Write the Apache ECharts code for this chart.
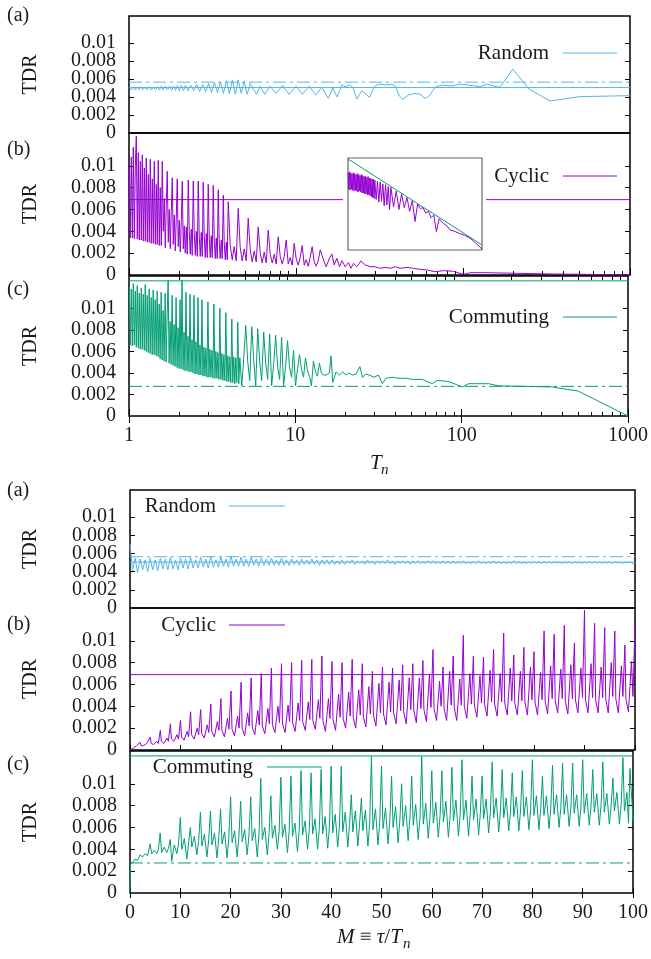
<!DOCTYPE html>
<html><head><meta charset="utf-8">
<script src="https://cdn.jsdelivr.net/npm/echarts@6/dist/echarts.min.js"></script>
<style>html,body{margin:0;padding:0;background:#fff}#c{width:651px;height:959px}</style>
</head><body><div id="c"></div>
<script>
// ---------- tick values ----------
const yTickValues = [0.002, 0.004, 0.006, 0.008, 0.01];
const yLabelsA = [0, 0.004, 0.008];
const yLabelsB = [0.002, 0.006, 0.01];
const tnMajorTicks = [1, 10, 100, 1000];
const tnMinorTicks = [2,3,4,5,6,7,8,9,20,30,40,50,60,70,80,90,200,300,400,500,600,700,800,900];
const tnRange = [1, 1000];
const mRange = [0, 100];

// ---------- reference levels ----------
const randomLevels = [0.00505, 0.00565];     // solid, dash-dot
const cyclicLevels = [0.0069];               // solid
const commutingLevels = [0.01255, 0.00275];  // solid, dash-dot

// ---------- TDR vs T_n ----------
const randomVsTn = [[1.00,.0051],[1.03,.0048],[1.06,.0051],[1.09,.0048],[1.12,.0051],[1.15,.0048],[1.18,.00515],[1.21,.0048],[1.25,.0051],[1.28,.0048],[1.32,.00515],[1.36,.00478],[1.40,.0051],[1.44,.0048],[1.48,.00515],[1.52,.00478],[1.56,.0052],[1.60,.00478],[1.65,.0052],[1.70,.00478],[1.75,.0052],[1.80,.00475],[1.85,.0052],[1.90,.00475],[1.95,.00525],[2.00,.00472],[2.06,.0053],[2.12,.0047],[2.18,.0053],
[2.25,.0047],[2.34,.0053],[2.44,.0047],[2.54,.0054],[2.65,.0046],[2.76,.0054],[2.88,.0046],[3.00,.0055],[3.12,.0045],[3.25,.0056],[3.39,.0045],[3.53,.0057],[3.68,.0044],[3.83,.0058],[3.99,.0044],[4.16,.0059],[4.33,.0043],[4.51,.0059],[4.70,.0044],[4.90,.0058],[5.10,.0043],[5.32,.0055],
[5.8,.0043],[6.1,.0052],[6.5,.0043],[7.0,.0052],[7.6,.0044],[8.3,.0053],[9.1,.0043],[10.0,.0052],[10.9,.0043],[12.0,.0052],[13.1,.0042],[14.3,.0051],[15.6,.00385],[16.6,.0050],[17.6,.0040],[18.8,.00533],[19.7,.00515],[21.1,.00533],[21.9,.00508],[23.1,.00378],[24.8,.0047],[26.3,.00433],[27.5,.00396],[29.1,.00496],[29.8,.00522],[31.6,.00544],[34.2,.00533],[37.5,.00544],[39.3,.00522],[41.6,.0041],[43.6,.00374],[47.1,.00422],[51.7,.0044],[55.4,.0043],[59.3,.00385],[62.1,.00404],[68.1,.00508],[74.6,.00533],[85.7,.00522],[96.1,.00544],[107.7,.00533],[126.6,.00515],[138.8,.00544],[152,.00522],[166.7,.00508],[198.6,.0071],[249.7,.00485],[332,.00356],[502,.00404],[1000,.00415]];

const cyclicVsTn = [[1.004,.0099],[1.018,.0034],[1.032,.0108],[1.047,.0034],[1.061,.0117],[1.076,.0033],[1.091,.0100],[1.106,.0127],[1.121,.0033],[1.137,.0112],[1.152,.0032],[1.169,.0104],[1.185,.0032],[1.201,.0110],[1.218,.0031],[1.235,.0098],[1.252,.0031],[1.269,.0107],[1.287,.0030],[1.305,.0092],[1.323,.0030],[1.341,.0106],[1.360,.0029],[1.379,.0088],[1.398,.0029],[1.417,.0104],[1.437,.0028],[1.457,.0083],[1.477,.0028],[1.497,.0105],[1.518,.0027],[1.539,.0080],[1.561,.0027],[1.582,.0104],[1.604,.0040],[1.627,.0070],[1.649,.0025],[1.672,.0065],[1.695,.0095],[1.719,.0030],[1.742,.0060],[1.767,.0024],[1.791,.0058],[1.816,.0089],[1.841,.0028],[1.867,.0055],[1.893,.0022],[1.919,.0052],[1.945,.0088],[1.972,.0026],[2.000,.0050],[2.028,.0021],[2.056,.0048],[2.084,.0086],[2.113,.0024],[2.142,.0045],[2.172,.0020],[2.203,.0044],[2.233,.0019],[2.264,.0087],[2.296,.0040],[2.327,.0019],[2.360,.0042],[2.392,.0018],[2.426,.0086],[2.459,.0038],[2.494,.0018],[2.528,.0040],[2.564,.0017],[2.598,.0086],[2.634,.0036],[2.671,.0017],[2.708,.0039],[2.746,.0017],[2.783,.0085],[2.822,.0035],[2.861,.0016],[2.901,.0038],[2.941,.0016],[2.982,.0083],[3.024,.0034],[3.066,.0016],[3.108,.0036],[3.151,.0016],[3.195,.0082],[3.239,.0032],[3.285,.0015],[3.330,.0034],[3.377,.0015],[3.423,.0078],[3.471,.0030],[3.518,.0015],[3.568,.0032],[3.617,.0015],[3.668,.0073],[3.718,.0029],[3.771,.0014],[3.822,.0030],[3.876,.0014],[3.929,.0067],
[4.038,.0027],[4.151,.0014],[4.267,.0026],[4.386,.0013],[4.509,.0061],[4.635,.0025],[4.764,.0013],[4.898,.0024],[5.035,.0013],[5.175,.0052],[5.320,.0023],[5.469,.0012],[5.622,.0022],[5.779,.0012],[5.940,.0044],[6.107,.0020],[6.277,.0011],[6.453,.0021],[6.633,.0011],[6.818,.0041],[7.009,.0019],[7.205,.0011],[7.406,.0019],[7.613,.0010],[7.826,.0035],[8.045,.0017],[8.269,.0010],[8.500,.0017],[8.738,.0032],[8.982,.0010],[9.233,.0016],[9.491,.0009],[9.755,.0029],[10.03,.0015],[10.31,.0009],[10.60,.0016],[10.89,.0027],[11.20,.0009],[11.51,.0014],[11.83,.0008],[12.16,.0016],[12.50,.0026],[12.85,.0012],[13.21,.0008],[13.58,.0013],[13.96,.0023],
[14.61,.00138],[15.16,.00076],[15.87,.00153],[16.40,.00193],[16.93,.00092],[17.57,.00153],[18.21,.00076],[18.83,.00131],[19.70,.00076],[20.62,.00113],[21.31,.00061],[22.09,.00107],[23.14,.00076],[24.45,.00128],[25.95,.00092],[27.80,.00076],[29.78,.00076],[31.90,.00061],[34.19,.0007],[36.63,.00061],[39.25,.00076],[42.04,.00061],[46.10,.0007],[50.49,.00061],[55.38,.00052],[60.73,.00046],[68.08,.0003],[76.33,.0004],[87.63,.00034],[100.6,.00006],[110.3,.00021],[138.8,.00021],[219.7,.00015],[347.5,.00009],[550.8,.00006],[1000,0]];

const commutingVsTn = [[1.004,.0120],[1.018,.0066],[1.032,.0118],[1.047,.0065],[1.061,.0123],[1.076,.0066],[1.091,.0116],[1.106,.0064],[1.121,.0121],[1.137,.0063],[1.152,.0114],[1.169,.0062],[1.185,.0119],[1.201,.0062],[1.218,.0113],[1.235,.0061],[1.252,.0122],[1.269,.0060],[1.287,.0112],[1.305,.0059],[1.323,.0118],[1.341,.0058],[1.360,.0110],[1.379,.0057],[1.398,.0117],[1.417,.0057],[1.437,.0108],[1.457,.0056],[1.477,.0116],[1.497,.0055],[1.518,.0104],[1.539,.0053],[1.561,.0115],[1.582,.0052],[1.604,.0098],[1.627,.0051],[1.649,.0114],[1.672,.0050],[1.695,.0092],[1.719,.0126],[1.742,.0049],[1.767,.0088],[1.791,.0048],[1.816,.0112],[1.841,.0047],[1.867,.0085],[1.893,.0046],[1.919,.0110],[1.945,.0045],[1.972,.0082],[2.000,.0044],[2.028,.0108],[2.056,.0044],[2.084,.0126],[2.113,.0043],[2.142,.0078],[2.172,.0042],[2.203,.0115],[2.233,.0042],[2.264,.0074],[2.296,.0041],[2.327,.0113],[2.360,.0041],[2.392,.0071],[2.426,.0040],[2.459,.0112],[2.494,.0039],[2.528,.0069],[2.564,.0039],[2.598,.0110],[2.634,.0038],[2.671,.0066],
[2.708,.0038],[2.746,.0108],[2.783,.0037],[2.822,.0064],[2.861,.0037],[2.901,.0063],[2.941,.0036],[2.982,.0106],[3.024,.0036],[3.066,.0062],[3.108,.0036],[3.151,.0061],[3.195,.0035],[3.239,.0104],[3.285,.0035],[3.330,.0060],[3.377,.0035],[3.423,.0059],[3.471,.0034],[3.518,.0100],[3.568,.0034],[3.617,.0058],[3.668,.0033],[3.718,.0057],[3.771,.0033],[3.822,.0096],[3.876,.0032],[3.929,.0056],[3.983,.0032],[4.038,.0055],[4.094,.0031],[4.151,.0090],[4.208,.0031],[4.267,.0055],[4.326,.0030],[4.386,.0054],[4.448,.0031],[4.509,.0087],[4.572,.0030],[4.635,.0054],
[4.764,.0028],[4.898,.0054],[5.035,.0084],[5.175,.0050],[5.320,.0033],[5.469,.0083],[5.622,.0052],[5.779,.0028],[5.940,.0081],[6.107,.0050],[6.277,.0033],[6.453,.0078],[6.633,.0049],[6.818,.0034],[7.009,.0076],[7.205,.0028],[7.406,.0048],[7.613,.0075],[7.826,.0046],[8.045,.0034],[8.269,.0073],[8.500,.0028],[8.738,.0046],[8.982,.0070],[9.233,.0045],[9.491,.0036],[9.755,.0061],[10.03,.0028],[10.31,.0044],[10.60,.0057],[10.89,.0043],[11.20,.0036],[11.51,.0054],[11.83,.0042],[12.16,.0037],[12.50,.0028],[12.85,.0051],[13.21,.0041],[13.58,.0037],[13.96,.0049],[14.35,.0040],[14.75,.0038],
[15.31,.0038],[16.02,.0040],[16.40,.00558],[16.77,.00312],[17.57,.0041],[18.39,.0038],[19.24,.0041],[20.17,.0038],[21.06,.0040],[22.09,.0038],[23.14,.0039],[24.45,.00458],[25.35,.0036],[26.57,.0039],[27.80,.0038],[29.78,.0036],[31.61,.0038],[33.40,.0030],[34.99,.0035],[38.33,.0036],[42.04,.0035],[46.10,.0035],[50.49,.0034],[57.94,.0034],[66.51,.0030],[71.26,.0033],[83.72,.0032],[100.6,.0027],[110.3,.0030],[145.3,.0030],[166.7,.0028],[347.5,.0027],[502.3,.00231],[1000,0]];

// inset (normalised log-log view of the cyclic curve)
const insetCyclic = [[0,.84],[.005,.66],[.01,.85],[.015,.65],[.02,.84],[.025,.66],[.03,.83],[.035,.65],[.04,.84],[.045,.64],[.05,.83],[.055,.65],[.06,.82],[.065,.64],[.07,.83],[.075,.63],[.08,.82],[.085,.64],[.09,.81],[.095,.63],[.10,.82],[.105,.62],[.11,.81],[.115,.62],[.12,.80],[.125,.61],[.13,.80],[.135,.61],[.14,.79],[.145,.60],[.15,.80],[.155,.60],[.16,.78],[.165,.59],[.17,.78],[.175,.58],[.18,.77],[.185,.57],[.19,.77],[.195,.56],[.20,.76],[.21,.55],[.22,.75],[.23,.52],[.24,.74],[.25,.53],[.26,.72],[.27,.48],[.28,.71],[.29,.49],[.30,.69],[.31,.44],[.32,.68],[.34,.47],[.36,.64],[.38,.44],[.40,.61],[.42,.46],[.44,.57],[.46,.42],[.48,.54],[.50,.31],[.52,.50],[.54,.45],[.56,.46],[.58,.40],[.60,.42],[.62,.35],[.64,.38],[.66,.20],[.68,.34],[.71,.29],[.74,.26],[.76,.22],[.80,.20],[.83,.18],[.87,.16],[.91,.13],[.95,.08],[1,.01]];
const insetBound = [[0,.99],[1,.055]];

// ---------- TDR vs M ----------
const randomVsM = [[0,.0071],[.5,.0041],[1,.0055],[1.5,.0039],[2,.0054],[2.5,.0042],[3,.0053],[3.5,.0040],[4,.0055],[4.5,.0042],[5,.0053],[5.5,.0041],[6,.0055],[6.5,.0043],[7,.0054],[7.5,.0042],[8,.0056],[8.5,.0043],[9,.0053],[9.5,.0042],[10,.0055],[10.5,.0044],[11,.0054],[11.5,.0043],[12,.0056],[12.5,.0044],[13,.0053],[13.5,.0044],[14,.0056],[14.5,.0045],[15,.0054],[15.5,.0044],[16,.0057],[16.5,.0045],[17,.0053],[17.5,.0045],[18,.0056],[18.5,.0046],[19,.0054],[19.5,.0045],[20,.0057],[20.5,.0046],[21,.0054],[21.5,.0046],[22,.0056],[22.5,.0046],[23,.0054],[23.5,.0046],[24,.0056],[24.5,.0047],[25,.0054],[25.5,.0046],[26,.0055],[26.5,.0047],[27,.0054],[27.5,.0047],[28,.0055],[28.5,.0047],[29,.0053],[29.5,.0047],[30,.0055],[30.5,.0047],[31,.0053],[31.5,.0047],[32,.0054],[32.5,.0048],[33,.0053],[33.5,.0047],[34,.0054],[34.5,.0048],[35,.0053],[35.5,.0048],[36,.0054],[36.5,.0048],[37,.0053],[37.5,.0047],[38,.0053],[38.5,.0048],[39,.0053],[39.5,.0048],[40,.0053],[40.5,.0048],[41,.0052],[41.5,.0048],[42,.0053],[42.5,.0048],[43,.0052],[43.5,.0049],[44,.0053],[44.5,.0048],[45,.0052],[45.5,.0049],[46,.0052],[46.5,.0048],[47,.0053],[47.5,.0049],[48,.0052],[48.5,.0048],[49,.0052],[49.5,.0049],[50,.0052],[50.5,.0049],[51,.0053],[51.5,.0049],[52,.0052],[52.5,.0048],[53,.0052],[53.5,.0049],[54,.0052],[54.5,.0049],[55,.0052],[55.5,.0048],[56,.0052],[56.5,.0049],[57,.0052],[57.5,.0049],[58,.0051],[58.5,.0049],[59,.0052],[59.5,.0049],[60,.0052],[60.5,.0049],[61,.0051],[61.5,.0049],[62,.0052],[62.5,.0049],[63,.0051],[63.5,.0049],[64,.0052],[64.5,.0049],[65,.0051],[65.5,.0049],[66,.0052],[66.5,.0049],[67,.0051],[67.5,.0049],[68,.0051],[68.5,.0049],[69,.0052],[69.5,.0049],[70,.0051],[70.5,.0049],[71,.0051],[71.5,.0049],[72,.0052],[72.5,.0049],[73,.0051],[73.5,.0049],[74,.0051],[74.5,.0049],[75,.0051],[75.5,.0049],[76,.0052],[76.5,.0049],[77,.0051],[77.5,.0049],[78,.0051],[78.5,.0049],[79,.0051],[79.5,.0049],[80,.0051],[80.5,.00495],[81,.0051],[81.5,.0049],[82,.0051],[82.5,.00495],[83,.0051],[83.5,.0049],[84,.0051],[84.5,.00495],[85,.0051],[85.5,.0049],[86,.0051],[86.5,.00495],[87,.0051],[87.5,.0049],[88,.0051],[88.5,.00495],[89,.0051],[89.5,.0049],[90,.0051],[90.5,.00495],[91,.0051],[91.5,.0049],[92,.0051],[92.5,.00495],[93,.0051],[93.5,.0049],[94,.0051],[94.5,.00495],[95,.0051],[95.5,.0049],[96,.0051],[96.5,.00495],[97,.0051],[97.5,.0049],[98,.0051],[98.5,.00495],[99,.0051],[99.5,.0049],[100,.0050]];

const cyclicVsM = [[0,0],[0.2,.0001],[0.7,.0002],[1.3,.0004],[1.6,.0003],
[2,.0007],[2.2,.0004],[2.7,.0004],[3.3,.0006],[3.6,.0005],
[4,.0012],[4.2,.0006],[4.7,.0005],[5.3,.0008],[5.6,.0006],
[6,.0018],[6.2,.0008],[6.7,.0006],[7.3,.0011],[7.6,.0008],
[8,.0024],[8.2,.0010],[8.7,.0008],[9.3,.0014],[9.6,.0010],
[10,.0027],[10.2,.0012],[10.7,.0009],[11.3,.0017],[11.6,.0012],
[12,.0035],[12.2,.0014],[12.7,.0010],[13.3,.0020],[13.6,.0014],
[14,.0037],[14.2,.0015],[14.7,.0011],[15.3,.0023],[15.6,.0016],
[16,.0042],[16.2,.0017],[16.7,.0012],[17.3,.0026],[17.6,.0018],
[18,.0047],[18.2,.0018],[18.7,.0012],[19.3,.0029],[19.6,.0019],
[20,.0054],[20.2,.0019],[20.7,.0013],[21.3,.0031],[21.6,.0020],
[22,.0062],[22.2,.0020],[22.7,.0013],[23.3,.0034],[23.6,.0022],
[24,.0066],[24.2,.0021],[24.7,.0014],[25.3,.0036],[25.6,.0023],
[26,.0070],[26.2,.0022],[26.7,.0015],[27.3,.0038],[27.6,.0024],
[28,.0075],[28.2,.0023],[28.7,.0016],[29.3,.0040],[29.6,.0025],
[30,.0079],[30.2,.0024],[30.7,.0016],[31.3,.0041],[31.6,.0026],
[32,.0080],[32.2,.0025],[32.7,.0017],[33.3,.0043],[33.6,.0027],
[34,.0082],[34.2,.0026],[34.7,.0018],[35.3,.0044],[35.6,.0028],
[36,.0083],[36.2,.0027],[36.7,.0019],[37.3,.0046],[37.6,.0029],
[38,.0086],[38.2,.0027],[38.7,.0017],[39.3,.0047],[39.6,.0029],
[40,.0081],[40.2,.0028],[40.7,.0018],[41.3,.0051],[41.6,.0030],
[42,.0080],[42.2,.0029],[42.7,.0020],[43.3,.0053],[43.6,.0031],
[44,.0083],[44.2,.0030],[44.7,.0020],[45.3,.0055],[45.6,.0032],
[46,.0079],[46.2,.0031],[46.7,.0021],[47.3,.0058],[47.6,.0033],
[48,.0072],[48.2,.0032],[48.7,.0022],[49.3,.0061],[49.6,.0034],
[50,.0076],[50.2,.0033],[50.7,.0023],[51.3,.0062],[51.6,.0035],
[52,.0075],[52.2,.0034],[52.7,.0024],[53.3,.0064],[53.6,.0036],
[54,.0078],[54.2,.0035],[54.7,.0024],[55.3,.0066],[55.6,.0037],
[56,.0079],[56.2,.0036],[56.7,.0025],[57.3,.0066],[57.6,.0038],
[58,.0082],[58.2,.0037],[58.7,.0026],[59.3,.0069],[59.6,.0039],
[60,.0092],[60.2,.0038],[60.7,.0027],[61.3,.0063],[61.6,.0040],
[62,.0076],[62.2,.0038],[62.7,.0027],[63.3,.0072],[63.6,.0041],
[64,.0086],[64.2,.0039],[64.7,.0027],[65.3,.0065],[65.6,.0041],
[66,.0105],[66.2,.0040],[66.7,.0029],[67.3,.0070],[67.6,.0042],
[68,.0086],[68.2,.0041],[68.7,.0030],[69.3,.0068],[69.6,.0043],
[70,.0085],[70.2,.0042],[70.7,.0031],[71.3,.0073],[71.6,.0044],
[72,.0092],[72.2,.0042],[72.7,.0031],[73.3,.0070],[73.6,.0044],
[74,.0107],[74.2,.0043],[74.7,.0032],[75.3,.0075],[75.6,.0045],
[76,.0087],[76.2,.0043],[76.7,.0032],[77.3,.0072],[77.6,.0045],
[78,.0094],[78.2,.0044],[78.7,.0032],[79.3,.0076],[79.6,.0046],
[80,.0090],[80.2,.0044],[80.7,.0032],[81.3,.0071],[81.6,.0046],
[82,.0109],[82.2,.0045],[82.7,.0033],[83.3,.0077],[83.6,.0047],
[84,.0106],[84.2,.0045],[84.7,.0034],[85.3,.0074],[85.6,.0047],
[86,.0114],[86.2,.0045],[86.7,.0033],[87.3,.0078],[87.6,.0047],
[88,.0098],[88.2,.0046],[88.7,.0034],[89.3,.0075],[89.6,.0048],
[90,.0128],[90.2,.0046],[90.7,.0034],[91.3,.0079],[91.6,.0048],
[92,.0116],[92.2,.0046],[92.7,.0034],[93.3,.0076],[93.6,.0048],
[94,.0112],[94.2,.0047],[94.7,.0034],[95.3,.0080],[95.6,.0049],
[96,.0109],[96.2,.0047],[96.7,.0034],[97.3,.0077],[97.6,.0049],
[98,.0096],[98.2,.0047],[98.7,.0035],[99.3,.0081],[99.6,.0049],
[100,.0115]];

const commutingVsM = [[0,0],[0.1,.0026],[0.5,.0028],[1,.0031],[1.5,.0030],[2,.0035],[2.5,.0033],[3,.0036],[3.5,.0034],[4,.0045],[4.3,.0036],[4.8,.0039],[5.3,.0036],[5.65,.0040],[6,.0055],[6.3,.0037],[6.8,.0042],[7.3,.0037],[7.65,.0041],[8,.0049],[8.3,.0029],[8.8,.0044],[9.3,.0036],[9.65,.0045],
[10,.0069],[10.3,.0040],[10.8,.0050],[11.3,.0031],[11.65,.0046],
[12,.0060],[12.3,.0042],[12.8,.0052],[13.3,.0035],[13.65,.0048],
[14,.0074],[14.3,.0043],[14.8,.0054],[15.3,.0033],[15.65,.0049],
[16,.0075],[16.3,.0044],[16.8,.0055],[17.3,.0032],[17.65,.0050],
[18,.0077],[18.3,.0045],[18.8,.0056],[19.3,.0032],[19.65,.0051],
[20,.0088],[20.3,.0046],[20.8,.0057],[21.3,.0033],[21.65,.0052],
[22,.0084],[22.3,.0047],[22.8,.0058],[23.3,.0035],[23.65,.0053],
[24,.0088],[24.3,.0048],[24.8,.0059],[25.3,.0033],[25.65,.0054],
[26,.0105],[26.3,.0049],[26.8,.0060],[27.3,.0035],[27.65,.0055],
[28,.0089],[28.3,.0050],[28.8,.0062],[29.3,.0040],[29.65,.0056],
[30,.0106],[30.3,.0051],[30.8,.0063],[31.3,.0037],[31.65,.0057],
[32,.0107],[32.3,.0052],[32.8,.0064],[33.3,.0038],[33.65,.0058],
[34,.0112],[34.3,.0053],[34.8,.0066],[35.3,.0040],[35.65,.0059],
[36,.0110],[36.3,.0054],[36.8,.0068],[37.3,.0040],[37.65,.0060],
[38,.0113],[38.3,.0054],[38.8,.0070],[39.3,.0041],[39.65,.0061],
[40,.0116],[40.3,.0055],[40.8,.0072],[41.3,.0042],[41.65,.0062],
[42,.0116],[42.3,.0056],[42.8,.0074],[43.3,.0042],[43.65,.0063],
[44,.0090],[44.3,.0056],[44.8,.0075],[45.3,.0043],[45.65,.0064],
[46,.0087],[46.3,.0057],[46.8,.0076],[47.3,.0043],[47.65,.0064],
[48,.0125],[48.3,.0058],[48.8,.0077],[49.3,.0044],[49.65,.0065],
[50,.0116],[50.3,.0059],[50.8,.0078],[51.3,.0045],[51.65,.0066],
[52,.0107],[52.3,.0060],[52.8,.0079],[53.3,.0046],[53.65,.0067],
[54,.0100],[54.3,.0061],[54.8,.0080],[55.3,.0048],[55.65,.0068],
[56,.0107],[56.3,.0062],[56.8,.0081],[57.3,.0049],[57.65,.0069],
[58,.0125],[58.3,.0063],[58.8,.0082],[59.3,.0050],[59.65,.0070],
[60,.0112],[60.3,.0064],[60.8,.0083],[61.3,.0051],[61.65,.0071],
[62,.0112],[62.3,.0065],[62.8,.0084],[63.3,.0051],[63.65,.0071],
[64,.0115],[64.3,.0066],[64.8,.0085],[65.3,.0052],[65.65,.0072],
[66,.0122],[66.3,.0067],[66.8,.0085],[67.3,.0052],[67.65,.0073],
[68,.0107],[68.3,.0067],[68.8,.0086],[69.3,.0053],[69.65,.0073],
[70,.0107],[70.3,.0068],[70.8,.0086],[71.3,.0055],[71.65,.0074],
[72,.0120],[72.3,.0069],[72.8,.0087],[73.3,.0056],[73.65,.0075],
[74,.0113],[74.3,.0069],[74.8,.0087],[75.3,.0057],[75.65,.0075],
[76,.0110],[76.3,.0070],[76.8,.0088],[77.3,.0057],[77.65,.0076],
[78,.0112],[78.3,.0070],[78.8,.0088],[79.3,.0058],[79.65,.0076],
[80,.0122],[80.3,.0071],[80.8,.0089],[81.3,.0058],[81.65,.0077],
[82,.0107],[82.3,.0071],[82.8,.0089],[83.3,.0059],[83.65,.0077],
[84,.0117],[84.3,.0072],[84.8,.0090],[85.3,.0060],[85.65,.0078],
[86,.0119],[86.3,.0072],[86.8,.0090],[87.3,.0061],[87.65,.0078],
[88,.0119],[88.3,.0073],[88.8,.0090],[89.3,.0061],[89.65,.0079],
[90,.0122],[90.3,.0073],[90.8,.0091],[91.3,.0062],[91.65,.0079],
[92,.0113],[92.3,.0074],[92.8,.0091],[93.3,.0062],[93.65,.0080],
[94,.0120],[94.3,.0074],[94.8,.0091],[95.3,.0063],[95.65,.0080],
[96,.0105],[96.3,.0075],[96.8,.0092],[97.3,.0063],[97.65,.0081],
[98,.0124],[98.3,.0075],[98.8,.0092],[99.1,.0064],[99.4,.0114],[100,.0066]];

// ---------- styling ----------
const FONT = 'Liberation Serif';
const TXT = '#1a1a1a';
const C_RANDOM = '#56b4e9', C_CYCLIC = '#9400d3', C_COMM = '#009e73';
const DASHDOT = [13, 4, 3, 4];

const grids = [
  {left:129, top:16,  width:501, height:117},
  {left:129, top:133, width:501, height:142},
  {left:129, top:276, width:501, height:140},
  {left:130, top:490, width:505, height:118},
  {left:130, top:608, width:505, height:142},
  {left:130, top:751, width:505, height:142},
].map(g => Object.assign({show:true, borderColor:'#000', borderWidth:1.5, backgroundColor:'transparent'}, g));
grids.push({left:348, top:158, width:134, height:92, show:true, borderColor:'#666', borderWidth:1.2, backgroundColor:'#fff', z:10});

function fmt(v){ return v === 0 ? '0' : String(parseFloat(Number(v).toFixed(4))); }

function yLabelAxis(g, labels, withTicks){
  return {type:'value', gridIndex:g, min:0, max:0.013, position:'left',
    axisLine:{show:false}, splitLine:{show:false},
    axisTick:{show:withTicks, inside:true, length:5, lineStyle:{color:'#000', width:1}, customValues:yTickValues},
    axisLabel:{show:true, interval:0, customValues:labels, margin:13, fontFamily:FONT, fontSize:20, color:TXT,
      formatter:fmt, showMinLabel:true, showMaxLabel:true, hideOverlap:false}};
}
const yAxis = [];
for (let g = 0; g < 6; g++) {
  yAxis.push(yLabelAxis(g, yLabelsA, true));     // 3g   (ticks + every other label)
  yAxis.push(yLabelAxis(g, yLabelsB, false));    // 3g+1 (remaining labels)
  yAxis.push({type:'value', gridIndex:g, min:0, max:0.013, position:'right',   // 3g+2 (mirror ticks)
    axisLine:{show:false}, splitLine:{show:false}, axisLabel:{show:false},
    axisTick:{show:true, inside:true, length:5, lineStyle:{color:'#000', width:1}, customValues:yTickValues}});
}
yAxis.push({type:'value', gridIndex:6, min:0, max:1, show:false});   // 18

function logAxis(g, pos, ticks, len, labels){
  const ax = {type:'log', logBase:10, gridIndex:g, min:1, max:1000, position:pos,
    axisLine:{show:false}, splitLine:{show:false}, minorTick:{show:false},
    axisTick:{show:ticks.length>0, inside:true, length:len, lineStyle:{color:'#000', width:1}},
    axisLabel:{show:!!labels, interval:0, customValues:tnMajorTicks, margin:10, fontFamily:FONT, fontSize:20, color:TXT,
      formatter:v => String(Math.round(v)), showMinLabel:true, showMaxLabel:true, hideOverlap:false}};
  if (ticks.length) ax.axisTick.customValues = ticks;
  return ax;
}
function linAxis(g, pos, ticks, labels){
  return {type:'value', gridIndex:g, min:0, max:100, interval:10, position:pos,
    axisLine:{show:false}, splitLine:{show:false},
    axisTick:{show:ticks, inside:true, length:5, lineStyle:{color:'#000', width:1}},
    axisLabel:{show:!!labels, margin:10, fontFamily:FONT, fontSize:20, color:TXT, showMinLabel:true, showMaxLabel:true, hideOverlap:false}};
}
const xAxis = [
  logAxis(0,'bottom',[],0,false),                 // 0
  logAxis(1,'bottom',tnMajorTicks,7,false),       // 1
  logAxis(1,'bottom',tnMinorTicks,4,false),       // 2
  logAxis(2,'bottom',tnMajorTicks,7,true),        // 3
  logAxis(2,'bottom',tnMinorTicks,4,false),       // 4
  logAxis(2,'top',tnMajorTicks,7,false),          // 5
  logAxis(2,'top',tnMinorTicks,4,false),          // 6
  linAxis(3,'bottom',false,false),                // 7
  linAxis(4,'bottom',true,false),                 // 8
  linAxis(5,'bottom',true,true),                  // 9
  linAxis(5,'top',true,false),                    // 10
  {type:'value', gridIndex:6, min:0, max:1, show:false} // 11
];

function line(name, data, xi, yi, color, z, dash){
  return {type:'line', name:name, data:data, xAxisIndex:xi, yAxisIndex:yi, showSymbol:false, symbol:'none',
    lineStyle:{color:color, width:1, type:dash||'solid'}, itemStyle:{color:color}, animation:false, z:z||2,
    emphasis:{disabled:true}, silent:true};
}
function levelSeries(vals, range, xi, yi, color, styles){
  return vals.map((v,i) => line('level', range.map(x => [x, v]), xi, yi, color, 1, styles[i]));
}
const series = [
  ...levelSeries(randomLevels, tnRange, 0, 0, C_RANDOM, ['solid', DASHDOT]),
  ...levelSeries(cyclicLevels, tnRange, 1, 3, C_CYCLIC, ['solid']),
  ...levelSeries(commutingLevels, tnRange, 3, 6, C_COMM, ['solid', DASHDOT]),
  ...levelSeries(randomLevels, mRange, 7, 9, C_RANDOM, ['solid', DASHDOT]),
  ...levelSeries(cyclicLevels, mRange, 8, 12, C_CYCLIC, ['solid']),
  ...levelSeries(commutingLevels, mRange, 9, 15, C_COMM, ['solid', DASHDOT]),
  line('Random', randomVsTn, 0, 0, C_RANDOM),
  line('Cyclic', cyclicVsTn, 1, 3, C_CYCLIC),
  line('Commuting', commutingVsTn, 3, 6, C_COMM),
  line('Random', randomVsM, 7, 9, C_RANDOM),
  line('Cyclic', cyclicVsM, 8, 12, C_CYCLIC),
  line('Commuting', commutingVsM, 9, 15, C_COMM),
  line('inset-cyclic', insetCyclic, 11, 18, C_CYCLIC, 12),
  line('inset-bound', insetBound, 11, 18, C_COMM, 12),
];

function txt(text, x, y, align, extra, size){
  return Object.assign({type:'text', x:x, y:y, z:20, silent:true,
    style:{text:text, x:0, y:0, fill:TXT, fontFamily:FONT, fontSize:size||20, align:align||'left', verticalAlign:'middle'}}, extra||{});
}
function legendItem(label, color, textRight, x1, x2, y){
  return [txt(label, textRight, y, 'right', null, 21),
    {type:'line', z:20, silent:true, shape:{x1:x1, y1:y, x2:x2, y2:y}, style:{stroke:color, lineWidth:1}}];
}
const panelLabels = [['(a)',16],['(b)',150],['(c)',290],['(a)',491],['(b)',625],['(c)',765]];
const tdrCenters = [74.5, 204, 346, 549, 679, 822];

const graphics = [
  {type:'rect', z:9, silent:true, shape:{x:343, y:152, width:143, height:104}, style:{fill:'#fff'}},
  ...panelLabels.map(p => txt(p[0], 7, p[1], 'left')),
  ...tdrCenters.map(c => txt('TDR', 31, c, 'center', {rotation:Math.PI/2})),
  ...legendItem('Random', C_RANDOM, 549, 563, 617, 53),
  ...legendItem('Cyclic', C_CYCLIC, 549, 563, 617, 176),
  ...legendItem('Commuting', C_COMM, 549, 563, 617, 317),
  ...legendItem('Random', C_RANDOM, 216, 229, 285, 506),
  ...legendItem('Cyclic', C_CYCLIC, 216, 229, 285, 625),
  ...legendItem('Commuting', C_COMM, 253, 267, 322, 767),
  // axis titles
  {type:'text', z:20, silent:true, x:370, y:463, style:{text:'T', x:0, y:0, fill:TXT, fontFamily:FONT, fontSize:21, fontStyle:'italic', align:'left', verticalAlign:'middle'}},
  {type:'text', z:20, silent:true, x:381, y:470, style:{text:'n', x:0, y:0, fill:TXT, fontFamily:FONT, fontSize:15, fontStyle:'italic', align:'left', verticalAlign:'middle'}},
  {type:'text', z:20, silent:true, x:337, y:937, style:{text:'{i|M} ≡ {i|τ}/{i|T}', x:0, y:0, fill:TXT, fontFamily:FONT, fontSize:21, align:'left', verticalAlign:'middle',
     rich:{i:{fontFamily:FONT, fontSize:21, fontStyle:'italic', fill:TXT}}}},
  {type:'text', z:20, silent:true, x:403, y:944, style:{text:'n', x:0, y:0, fill:TXT, fontFamily:FONT, fontSize:15, fontStyle:'italic', align:'left', verticalAlign:'middle'}},
];

const chart = echarts.init(document.getElementById('c'), null, {renderer:'canvas'});
chart.setOption({
  animation:false,
  backgroundColor:'#fff',
  grid:grids, xAxis:xAxis, yAxis:yAxis, series:series,
  graphic:{elements:graphics}
});
</script></body></html>
